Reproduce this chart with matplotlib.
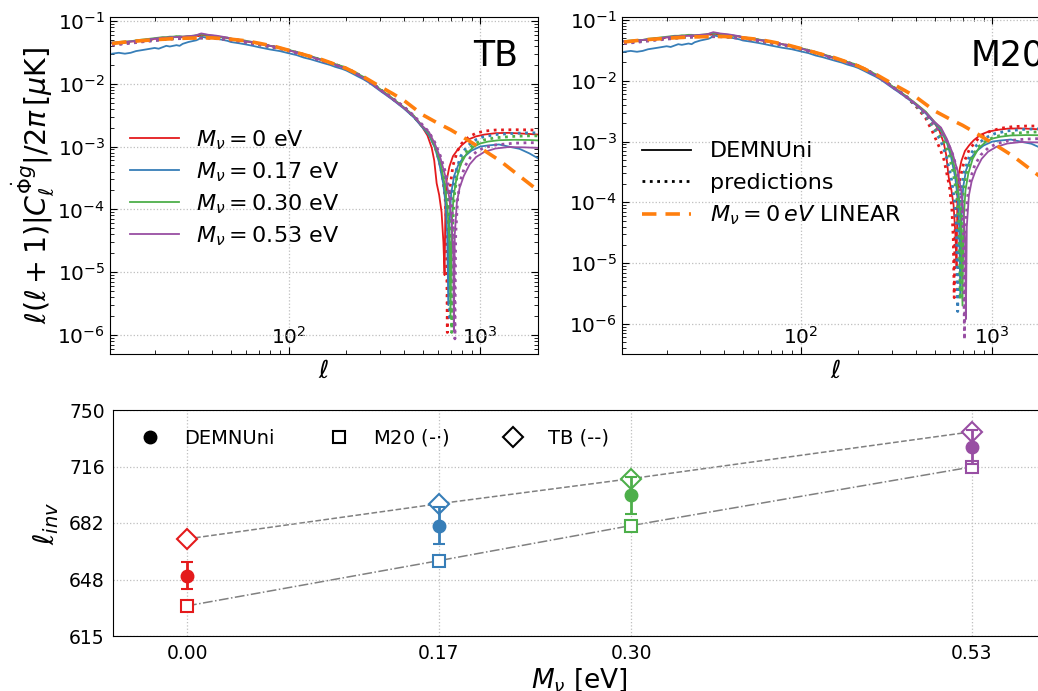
import numpy as np
import matplotlib
matplotlib.use("Agg")
import matplotlib.pyplot as plt
from matplotlib.lines import Line2D

# ---------------- data ----------------
masses = [0.00, 0.17, 0.30, 0.53]
mass_labels = [r'$M_\nu = 0$ eV', r'$M_\nu = 0.17$ eV', r'$M_\nu = 0.30$ eV', r'$M_\nu = 0.53$ eV']
colors = ['#e41a1c', '#377eb8', '#4daf4a', '#984ea3']

# multipoles of the low-ell part (shared grid)
ell_lo = [12, 13, 14, 15, 16, 17, 18, 19, 20, 21, 22, 23, 24, 25, 26, 27, 28, 30, 32, 33, 34, 35,
          36, 37, 38, 40, 42, 45, 48, 50, 55, 60, 65, 70, 80, 90, 100, 110, 120, 130, 150, 165, 175,
          190, 200, 215, 230, 245, 260, 280, 300, 320, 350]

# DEMNUni (simulation) low-ell values
sim_lo_0 = [0.044, 0.045, 0.045, 0.047, 0.047, 0.048, 0.050, 0.049, 0.052, 0.051, 0.053, 0.052, 0.054,
            0.055, 0.056, 0.054, 0.055, 0.056, 0.057, 0.058, 0.057, 0.060, 0.059, 0.058, 0.059, 0.057,
            0.056, 0.055, 0.053, 0.051, 0.049, 0.047, 0.045, 0.043, 0.040, 0.037, 0.034, 0.0315, 0.029,
            0.027, 0.0235, 0.0215, 0.0200, 0.0185, 0.0175, 0.0155, 0.0138, 0.0126, 0.0112, 0.0094,
            0.0080, 0.0070, 0.0057]
sim_lo_1 = [0.030, 0.031, 0.030, 0.031, 0.033, 0.034, 0.035, 0.036, 0.037, 0.036, 0.038, 0.040, 0.039,
            0.040, 0.041, 0.040, 0.043, 0.046, 0.048, 0.049, 0.051, 0.056, 0.055, 0.054, 0.055, 0.053,
            0.052, 0.050, 0.048, 0.046, 0.044, 0.042, 0.040, 0.038, 0.035, 0.033, 0.0305, 0.0285, 0.026,
            0.0245, 0.0215, 0.0198, 0.0185, 0.0172, 0.0162, 0.0145, 0.0130, 0.0118, 0.0106, 0.0090,
            0.0077, 0.0067, 0.0055]
sim_lo_2 = [0.045, 0.046, 0.047, 0.047, 0.049, 0.050, 0.051, 0.052, 0.053, 0.054, 0.055, 0.055, 0.056,
            0.056, 0.057, 0.057, 0.056, 0.057, 0.058, 0.059, 0.060, 0.061, 0.060, 0.060, 0.059, 0.058,
            0.057, 0.055, 0.054, 0.052, 0.050, 0.048, 0.046, 0.044, 0.040, 0.0375, 0.0345, 0.032, 0.0295,
            0.0275, 0.0240, 0.0220, 0.0205, 0.0190, 0.0178, 0.0160, 0.0143, 0.0129, 0.0114, 0.0096,
            0.0082, 0.0071, 0.0058]
sim_lo_3 = [0.045, 0.045, 0.046, 0.047, 0.048, 0.049, 0.050, 0.051, 0.052, 0.053, 0.054, 0.054, 0.055,
            0.055, 0.055, 0.056, 0.056, 0.057, 0.058, 0.059, 0.061, 0.063, 0.062, 0.061, 0.060, 0.059,
            0.058, 0.056, 0.054, 0.052, 0.050, 0.047, 0.046, 0.044, 0.040, 0.037, 0.034, 0.0315, 0.0290,
            0.0270, 0.0235, 0.0215, 0.0200, 0.0183, 0.0172, 0.0153, 0.0138, 0.0124, 0.0110, 0.0093,
            0.0079, 0.0069, 0.0056]
# predictions low-ell values (smooth)
pred_lo_0 = [0.043, 0.044, 0.045, 0.046, 0.047, 0.048, 0.049, 0.050, 0.0505, 0.051, 0.052, 0.0525, 0.053,
             0.0535, 0.054, 0.054, 0.0545, 0.055, 0.055, 0.055, 0.055, 0.055, 0.055, 0.055, 0.055, 0.0545,
             0.054, 0.053, 0.052, 0.051, 0.049, 0.047, 0.045, 0.043, 0.040, 0.037, 0.034, 0.0315, 0.0292,
             0.027, 0.0235, 0.0215, 0.0202, 0.0187, 0.0176, 0.0158, 0.0142, 0.0127, 0.0113, 0.0096,
             0.0081, 0.0071, 0.0057]
pred_lo_1 = [0.042, 0.043, 0.044, 0.045, 0.046, 0.047, 0.048, 0.049, 0.0495, 0.050, 0.051, 0.0515, 0.052,
             0.0525, 0.053, 0.053, 0.0535, 0.054, 0.054, 0.054, 0.054, 0.054, 0.054, 0.054, 0.054, 0.0535,
             0.053, 0.052, 0.051, 0.050, 0.048, 0.046, 0.044, 0.042, 0.039, 0.0365, 0.0335, 0.031, 0.0288,
             0.0267, 0.0232, 0.0213, 0.0200, 0.0185, 0.0174, 0.0156, 0.0140, 0.0126, 0.0112, 0.0095,
             0.0080, 0.0070, 0.0057]
pred_lo_2 = [0.042, 0.043, 0.044, 0.045, 0.046, 0.047, 0.048, 0.0485, 0.049, 0.050, 0.0505, 0.051, 0.0515,
             0.052, 0.0525, 0.0525, 0.053, 0.0535, 0.0535, 0.0535, 0.0535, 0.0535, 0.0535, 0.0535, 0.0535,
             0.053, 0.0525, 0.0515, 0.0505, 0.0495, 0.0475, 0.0455, 0.0435, 0.0418, 0.0388, 0.0362, 0.0333,
             0.0309, 0.0286, 0.0265, 0.0231, 0.0212, 0.0199, 0.0184, 0.0173, 0.0156, 0.0140, 0.0126, 0.0112,
             0.0096, 0.0081, 0.0071, 0.0058]
pred_lo_3 = [0.041, 0.042, 0.043, 0.044, 0.045, 0.046, 0.047, 0.0475, 0.0485, 0.049, 0.050, 0.0505, 0.051,
             0.0515, 0.052, 0.052, 0.0525, 0.053, 0.053, 0.053, 0.053, 0.053, 0.053, 0.053, 0.053, 0.0525,
             0.052, 0.051, 0.050, 0.049, 0.047, 0.045, 0.043, 0.0415, 0.0385, 0.036, 0.0331, 0.0307, 0.0284,
             0.0263, 0.0229, 0.0210, 0.0197, 0.0183, 0.0171, 0.0155, 0.0139, 0.0125, 0.0111, 0.0095,
             0.0080, 0.0070, 0.0058]

# DEMNUni high-ell parts (zero crossing -> dip)
sim_ell_hi_0 = [400, 450, 500, 530, 558, 575, 592, 610, 628, 642, 651, 658, 666, 690, 720, 760, 800,
                870, 950, 1050, 1200, 1400, 1700, 2000]
sim_c_hi_0 = [4.1e-3, 3.0e-3, 2.0e-3, 1.5e-3, 9.5e-4, 6.0e-4, 2.6e-4, 1.7e-4, 9e-5, 3e-5, 9e-6, 1.2e-4,
              2.8e-4, 4.8e-4, 7.0e-4, 8.8e-4, 1.05e-3, 1.3e-3, 1.45e-3, 1.55e-3, 1.63e-3, 1.65e-3,
              1.6e-3, 1.55e-3]
sim_ell_hi_1 = [400, 450, 500, 540, 580, 610, 640, 660, 672, 681, 690, 705, 730, 770, 820, 900, 1000,
                1100, 1250, 1400, 1600, 1800, 2000]
sim_c_hi_1 = [4.0e-3, 2.9e-3, 2.0e-3, 1.5e-3, 9.5e-4, 5.5e-4, 2.6e-4, 1.2e-4, 4e-5, 3e-6, 6e-5, 1.8e-4,
              3.4e-4, 5.2e-4, 6.8e-4, 8.6e-4, 1.0e-3, 1.04e-3, 1.08e-3, 1.0e-3, 9.2e-4, 7.8e-4, 6.5e-4]
sim_ell_hi_2 = [400, 450, 500, 540, 580, 620, 650, 675, 690, 699, 708, 725, 750, 790, 850, 930, 1000,
                1100, 1250, 1500, 1800, 2000]
sim_c_hi_2 = [4.2e-3, 3.1e-3, 2.1e-3, 1.6e-3, 1.0e-3, 5.5e-4, 2.6e-4, 1.0e-4, 3e-5, 2e-6, 5e-5, 1.6e-4,
              3.0e-4, 5.2e-4, 7.8e-4, 1.0e-3, 1.12e-3, 1.2e-3, 1.26e-3, 1.28e-3, 1.27e-3, 1.25e-3]
sim_ell_hi_3 = [400, 450, 500, 540, 580, 620, 660, 690, 710, 722, 728, 736, 755, 780, 820, 880, 950,
                1050, 1200, 1400, 1700, 2000]
sim_c_hi_3 = [4.1e-3, 3.0e-3, 2.1e-3, 1.7e-3, 1.1e-3, 6.5e-4, 3.2e-4, 1.5e-4, 6e-5, 2e-5, 1.2e-6, 4e-5,
              1.3e-4, 2.2e-4, 3.4e-4, 5.2e-4, 6.8e-4, 8.2e-4, 9.3e-4, 9.8e-4, 9.7e-4, 9.5e-4]

# TB predictions high-ell parts
tb_ell_hi_0 = [400, 450, 500, 540, 580, 610, 635, 655, 666, 673, 680, 695, 720, 760, 800, 870, 950,
               1050, 1200, 1500, 1800, 2000]
tb_c_hi_0 = [4.2e-3, 3.0e-3, 2.1e-3, 1.6e-3, 1.0e-3, 6.0e-4, 3.3e-4, 1.6e-4, 6e-5, 1.1e-6, 6e-5, 2.2e-4,
             5.0e-4, 8.5e-4, 1.12e-3, 1.42e-3, 1.63e-3, 1.76e-3, 1.83e-3, 1.85e-3, 1.84e-3, 1.82e-3]
tb_ell_hi_1 = [400, 450, 500, 540, 580, 620, 650, 675, 688, 694, 701, 718, 745, 790, 850, 930, 1030,
               1200, 1500, 1800, 2000]
tb_c_hi_1 = [4.2e-3, 3.0e-3, 2.1e-3, 1.6e-3, 1.05e-3, 6.0e-4, 3.2e-4, 1.4e-4, 5e-5, 1.7e-6, 5e-5, 1.8e-4,
             4.0e-4, 7.0e-4, 1.0e-3, 1.25e-3, 1.42e-3, 1.55e-3, 1.62e-3, 1.65e-3, 1.65e-3]
tb_ell_hi_2 = [400, 450, 500, 540, 580, 620, 660, 688, 702, 709, 716, 733, 760, 800, 860, 940, 1040,
               1200, 1500, 1800, 2000]
tb_c_hi_2 = [4.2e-3, 3.0e-3, 2.1e-3, 1.65e-3, 1.1e-3, 6.5e-4, 3.2e-4, 1.4e-4, 5e-5, 1.1e-6, 5e-5, 1.7e-4,
             3.7e-4, 6.2e-4, 9.0e-4, 1.12e-3, 1.27e-3, 1.38e-3, 1.45e-3, 1.48e-3, 1.48e-3]
tb_ell_hi_3 = [400, 450, 500, 540, 580, 620, 660, 695, 720, 731, 737, 744, 762, 790, 830, 890, 960,
               1050, 1200, 1500, 1800, 2000]
tb_c_hi_3 = [4.3e-3, 3.1e-3, 2.2e-3, 1.7e-3, 1.15e-3, 7.0e-4, 3.8e-4, 1.8e-4, 7e-5, 2e-5, 8.7e-7, 4e-5,
             1.5e-4, 3.0e-4, 4.8e-4, 6.8e-4, 8.4e-4, 9.6e-4, 1.06e-3, 1.13e-3, 1.15e-3, 1.15e-3]

# M20 predictions high-ell parts
m20_ell_hi_0 = [400, 450, 490, 530, 560, 598, 615, 626, 633, 640, 655, 676, 710, 760, 860, 960, 1100,
                1280, 1500, 1800, 2000]
m20_c_hi_0 = [3.8e-3, 2.4e-3, 1.4e-3, 8.0e-4, 5.0e-4, 1.8e-4, 8e-5, 2.5e-5, 2.7e-6, 4e-5, 1.3e-4, 2.3e-4,
              4.5e-4, 7.5e-4, 1.2e-3, 1.45e-3, 1.65e-3, 1.76e-3, 1.8e-3, 1.8e-3, 1.78e-3]
m20_ell_hi_1 = [400, 450, 500, 540, 575, 610, 635, 650, 660, 668, 685, 710, 760, 830, 920, 1030, 1200,
                1500, 1800, 2000]
m20_c_hi_1 = [3.9e-3, 2.6e-3, 1.55e-3, 1.0e-3, 5.8e-4, 2.6e-4, 1.1e-4, 4e-5, 1.6e-6, 4e-5, 1.5e-4, 3.0e-4,
              5.8e-4, 8.8e-4, 1.15e-3, 1.35e-3, 1.5e-3, 1.6e-3, 1.62e-3, 1.6e-3]
m20_ell_hi_2 = [400, 450, 500, 560, 600, 635, 658, 672, 681, 689, 705, 730, 780, 850, 930, 1030, 1200,
                1500, 1800, 2000]
m20_c_hi_2 = [3.9e-3, 2.7e-3, 1.7e-3, 1.0e-3, 5.5e-4, 2.4e-4, 1.0e-4, 3.5e-5, 2.5e-6, 4e-5, 1.4e-4, 2.9e-4,
              5.6e-4, 8.3e-4, 1.03e-3, 1.2e-3, 1.33e-3, 1.42e-3, 1.45e-3, 1.45e-3]
m20_ell_hi_3 = [400, 450, 500, 583, 630, 665, 690, 706, 716, 724, 742, 770, 810, 870, 950, 1050, 1200,
                1500, 1800, 2000]
m20_c_hi_3 = [4.0e-3, 2.8e-3, 1.8e-3, 1.0e-3, 5.5e-4, 2.6e-4, 1.1e-4, 3.5e-5, 5.5e-7, 3.5e-5, 1.2e-4, 2.5e-4,
              4.1e-4, 6.0e-4, 7.8e-4, 9.2e-4, 1.03e-3, 1.1e-3, 1.12e-3, 1.12e-3]

# linear theory, M_nu = 0
lin_ell = [12, 15, 20, 25, 30, 35, 40, 50, 60, 70, 85, 100, 125, 150, 200, 250, 300, 350, 400, 450,
           500, 600, 700, 800, 1000, 1270, 1600, 2000]
lin_c = [0.0435, 0.047, 0.050, 0.052, 0.053, 0.0535, 0.0535, 0.051, 0.048, 0.044, 0.039, 0.034, 0.028,
         0.024, 0.0175, 0.0125, 0.0090, 0.0069, 0.0054, 0.0041, 0.0032, 0.00235, 0.00185, 0.00145,
         0.00095, 0.00059, 0.00034, 0.00020]

# bottom panel: inversion multipoles
ell_inv_sim = [651, 681, 699, 728]
ell_inv_sim_err = [8, 11, 11, 10]
ell_inv_m20 = [633, 660, 681, 716]
ell_inv_tb = [673, 694, 709, 737]

sim_lo = [sim_lo_0, sim_lo_1, sim_lo_2, sim_lo_3]
sim_hi = [(sim_ell_hi_0, sim_c_hi_0), (sim_ell_hi_1, sim_c_hi_1), (sim_ell_hi_2, sim_c_hi_2), (sim_ell_hi_3, sim_c_hi_3)]
pred_lo = [pred_lo_0, pred_lo_1, pred_lo_2, pred_lo_3]
tb_hi = [(tb_ell_hi_0, tb_c_hi_0), (tb_ell_hi_1, tb_c_hi_1), (tb_ell_hi_2, tb_c_hi_2), (tb_ell_hi_3, tb_c_hi_3)]
m20_hi = [(m20_ell_hi_0, m20_c_hi_0), (m20_ell_hi_1, m20_c_hi_1), (m20_ell_hi_2, m20_c_hi_2), (m20_ell_hi_3, m20_c_hi_3)]

# ---------------- figure ----------------
W, H = 1038, 691
fig = plt.figure(figsize=(W / 100, H / 100), dpi=100)

def ax_px(x0, y0, x1, y1):
    return fig.add_axes([x0 / W, 1 - y1 / H, (x1 - x0) / W, (y1 - y0) / H])

axL = ax_px(110, 17, 538, 354)
axR = ax_px(622, 17, 1050, 354)
axB = ax_px(113, 410, 1046, 636)

def style_top(ax, ylim):
    ax.set_xscale('log')
    ax.set_yscale('log')
    ax.set_xlim(11.7, 2000)
    ax.set_ylim(*ylim)
    ax.tick_params(which='both', direction='in', top=True, right=True, labelsize=14.5)
    ax.tick_params(which='major', length=5)
    ax.tick_params(which='minor', length=3)
    ax.tick_params(axis='x', which='major', pad=-20)
    ax.grid(True, which='major', ls=':', color='0.75', lw=0.9)
    ax.set_xlabel(r'$\ell$', fontsize=18, labelpad=0)
    ax.set_yticks([1e-6, 1e-5, 1e-4, 1e-3, 1e-2, 1e-1])

for ax, hi_list, ylim, name in [(axL, tb_hi, (5e-7, 0.115), 'TB'), (axR, m20_hi, (3.2e-7, 0.112), 'M20')]:
    for i in range(4):
        ell_s = list(ell_lo) + list(sim_hi[i][0])
        c_s = list(sim_lo[i]) + list(sim_hi[i][1])
        ax.plot(ell_s, c_s, '-', color=colors[i], lw=1.3)
        ell_p = list(ell_lo) + list(hi_list[i][0])
        c_p = list(pred_lo[i]) + list(hi_list[i][1])
        ax.plot(ell_p, c_p, ':', color=colors[i], lw=2.0)
    ax.plot(lin_ell, lin_c, '--', color='#ff7f0e', lw=2.6, dashes=(4, 2.5))
    style_top(ax, ylim)
    ax.text(0.9, 0.885, name, transform=ax.transAxes, ha='center', va='center', fontsize=25)

axL.set_ylabel(r'$\ell(\ell+1)|C_\ell^{\dot{\Phi}g}|/2\pi\,[\mu \mathrm{K}]$', fontsize=20.5, labelpad=0)

h1 = [Line2D([], [], color=c, lw=1.3) for c in colors]
axL.legend(h1, mass_labels, loc='upper left', bbox_to_anchor=(0.0, 0.73), frameon=False,
           fontsize=16, handlelength=2.2, handletextpad=0.75, labelspacing=0.38)

h2 = [Line2D([], [], color='k', lw=1.3), Line2D([], [], color='k', ls=':', lw=2.0),
      Line2D([], [], color='#ff7f0e', ls='--', lw=2.6, dashes=(4, 2.5))]
axR.legend(h2, ['DEMNUni', 'predictions', r'$M_\nu = 0\,eV$ LINEAR'], loc='upper left',
           bbox_to_anchor=(0.0, 0.69), frameon=False, fontsize=16, handlelength=2.2,
           handletextpad=0.85, labelspacing=0.5)

# bottom panel
axB.plot(masses, ell_inv_tb, '--', color='0.5', lw=1.1, zorder=1)
axB.plot(masses, ell_inv_m20, '-.', color='0.5', lw=1.1, zorder=1)
for i in range(4):
    axB.errorbar(masses[i], ell_inv_sim[i], yerr=ell_inv_sim_err[i], fmt='o', color=colors[i],
                 ms=9, elinewidth=2, capsize=4, capthick=1.5, zorder=3)
    axB.plot(masses[i], ell_inv_m20[i], 's', mfc='white', mec=colors[i], mew=1.5, ms=9, zorder=2)
    axB.plot(masses[i], ell_inv_tb[i], 'D', mfc='white', mec=colors[i], mew=1.5, ms=10, zorder=2)

axB.set_xlim(-0.05, 0.58)
axB.set_ylim(615, 750)
axB.set_xticks(masses)
axB.set_xticklabels(['%.2f' % m for m in masses])
axB.set_yticks(np.linspace(615, 750, 5))
axB.set_yticklabels(['%d' % v for v in np.linspace(615, 750, 5)])
axB.tick_params(direction='in', labelsize=13.5, length=0, pad=6)
axB.grid(True, ls=':', color='0.75', lw=0.9)
axB.set_xlabel(r'$M_\nu$ [eV]', fontsize=19, labelpad=2)
axB.set_ylabel(r'$\ell_{inv}$', fontsize=20, labelpad=6)

h3 = [Line2D([], [], ls='none', marker='o', color='k', ms=9),
      Line2D([], [], ls='none', marker='s', mfc='white', mec='k', mew=1.5, ms=9),
      Line2D([], [], ls='none', marker='D', mfc='white', mec='k', mew=1.5, ms=10)]
axB.legend(h3, ['DEMNUni', 'M20 (-$\\cdot$)', 'TB (--)'], loc='upper left', ncol=3, frameon=False,
           fontsize=14, bbox_to_anchor=(0.0, 1.0), columnspacing=2.3, handletextpad=0.75)

fig.savefig('out.png', dpi=100)
